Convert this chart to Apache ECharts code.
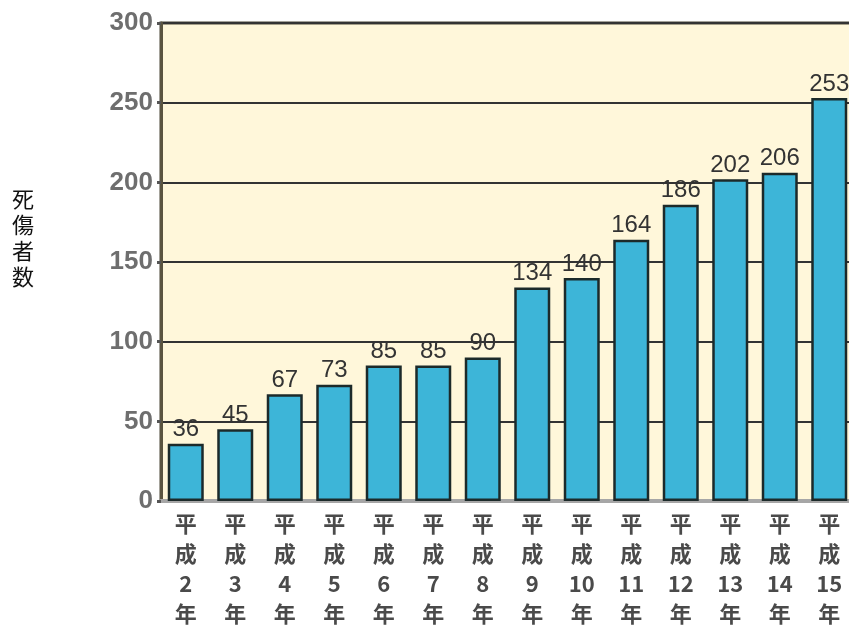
<!DOCTYPE html>
<html>
<head>
<meta charset="utf-8">
<script src="https://cdn.jsdelivr.net/npm/echarts@6/dist/echarts.min.js"></script>
<style>
  html, body { margin: 0; padding: 0; background: #fff; overflow: hidden; }
  /* 描画領域は右端で画面外まで続く */
  #chart { width: 854px; height: 632px; }
</style>
</head>
<body>
<div id="chart"></div>
<script>
// 年別の死傷者数
const years = ['平成2年', '平成3年', '平成4年', '平成5年', '平成6年', '平成7年', '平成8年',
               '平成9年', '平成10年', '平成11年', '平成12年', '平成13年', '平成14年', '平成15年'];
const casualties = [36, 45, 67, 73, 85, 85, 90, 134, 140, 164, 186, 202, 206, 253];
const yTicks = [0, 50, 100, 150, 200, 250, 300];
const axisTitle = '死傷者数';

// 縦書き用: 「平」「成」「数字」「年」を一行ずつに分ける
function verticalLabel(s) {
  const m = s.match(/^(平)(成)(\d+)(年)$/);
  return m ? [m[1], m[2], m[3], m[4]].join('\n') : s.split('').join('\n');
}

const chart = echarts.init(document.getElementById('chart'));
chart.setOption({
  animation: false,
  grid: {
    left: 161, top: 23, right: 0, bottom: 131,
    show: true,
    backgroundColor: '#FFF7DA',
    borderColor: '#4a4636',
    borderWidth: 3
  },
  graphic: [{
    type: 'text',
    left: 12, top: 186,
    style: {
      text: axisTitle.split('').join('\n'),
      font: '22px "Noto Sans CJK JP"',
      lineHeight: 26,
      fill: '#111'
    }
  }],
  xAxis: {
    type: 'category',
    data: years,
    axisLine: { lineStyle: { color: '#a6a6a6', width: 4 } },
    axisTick: { inside: true, length: 10, lineStyle: { color: '#8f876a', width: 6 } },
    axisLabel: {
      interval: 0,
      margin: 8,
      formatter: v => verticalLabel(v),
      fontFamily: '"Noto Sans CJK JP"',
      fontSize: 22,
      fontWeight: 'bold',
      lineHeight: 30,
      color: '#4a4a4a'
    }
  },
  yAxis: {
    type: 'value',
    min: yTicks[0],
    max: yTicks[yTicks.length - 1],
    interval: yTicks[1] - yTicks[0],
    axisLine: { show: true, lineStyle: { color: '#5a5440', width: 3 } },
    axisTick: { show: true, length: 4, lineStyle: { color: '#555', width: 3 } },
    splitLine: { lineStyle: { color: '#333', width: 2 } },
    axisLabel: {
      margin: 8,
      fontFamily: '"Liberation Sans", Arial',
      fontSize: 26,
      fontWeight: 'bold',
      color: '#6e6e6e'
    }
  },
  series: [{
    type: 'bar',
    data: casualties,
    barWidth: 36,
    itemStyle: { color: '#3DB5D8', borderColor: '#1c2a2a', borderWidth: 2.5 },
    label: {
      show: true,
      position: 'top',
      distance: 2,
      fontFamily: '"Liberation Sans", Arial',
      fontSize: 24,
      color: '#333'
    }
  }]
});
</script>
</body>
</html>
